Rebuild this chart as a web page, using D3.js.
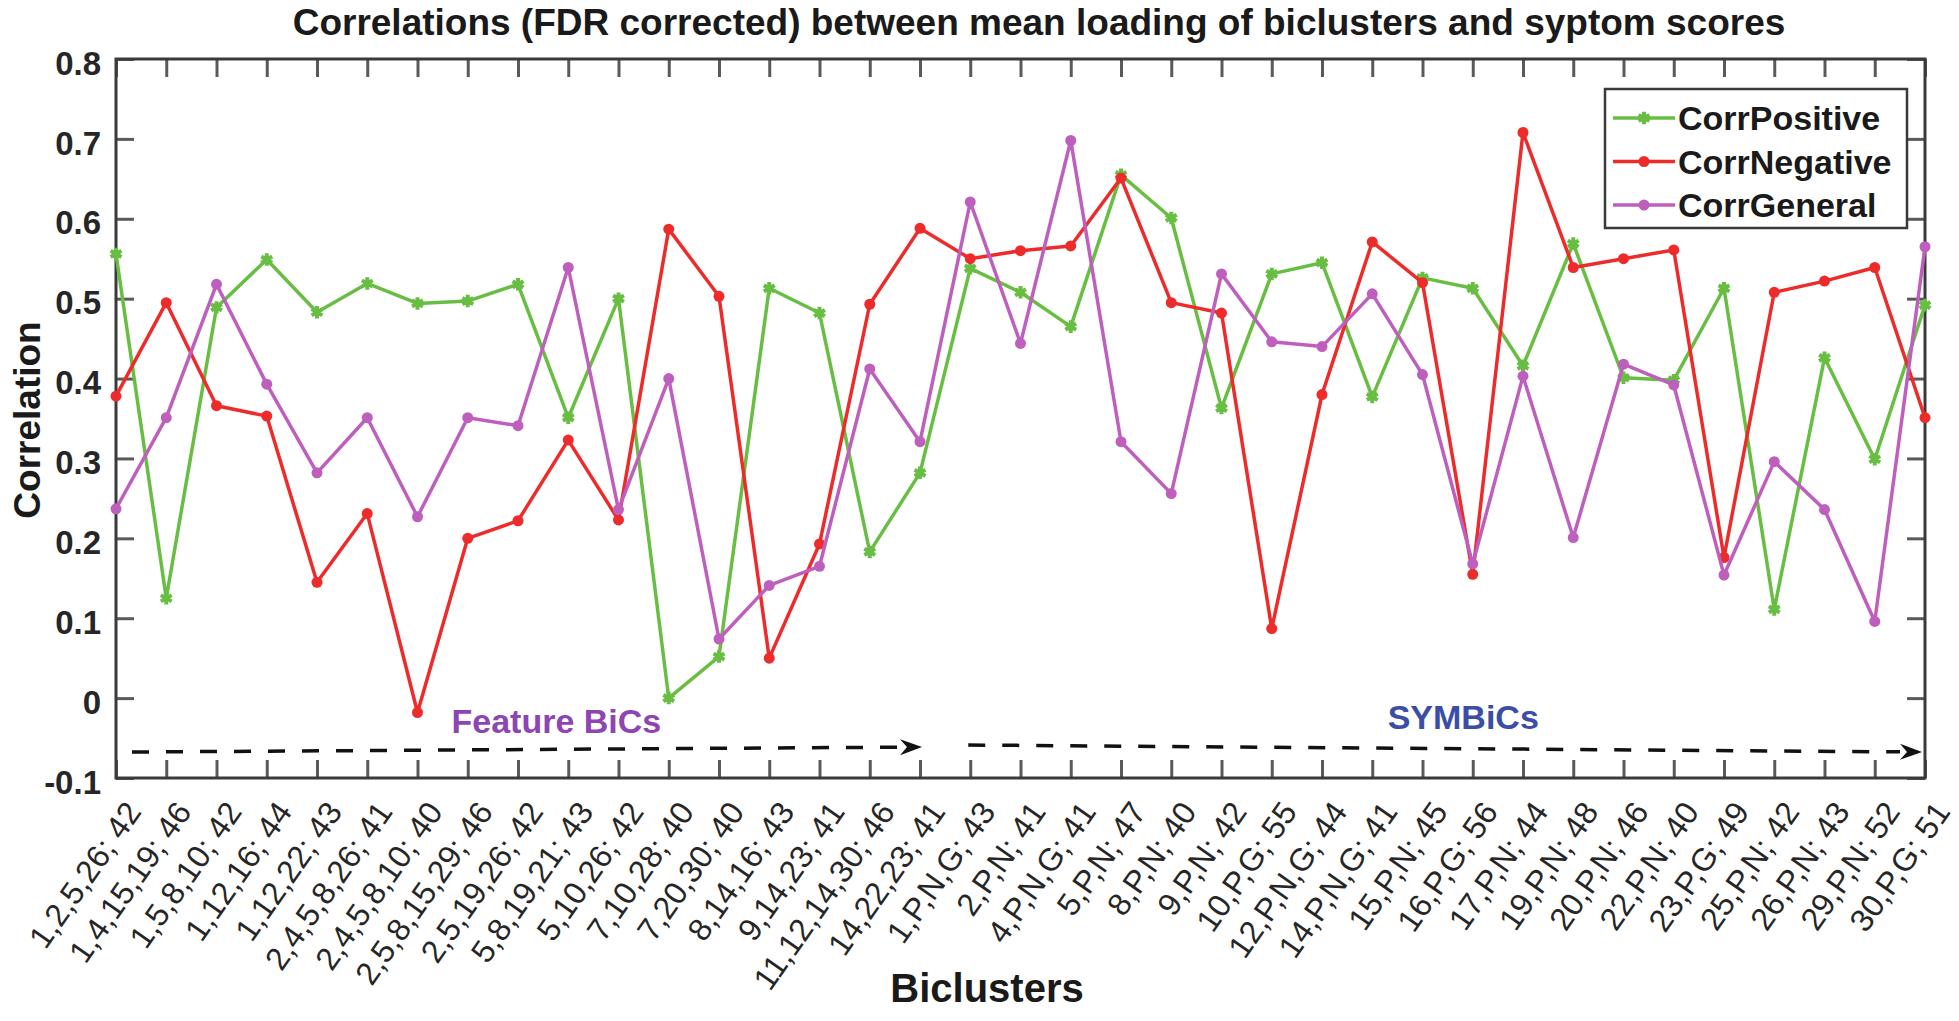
<!DOCTYPE html>
<html><head><meta charset="utf-8">
<script src="https://cdn.jsdelivr.net/npm/d3@7"></script>
<style>html,body{margin:0;padding:0;background:#fff;} svg{display:block;font-family:"Liberation Sans",Arial,Helvetica,sans-serif;}</style>
</head><body><svg id="chart" width="1959" height="1021"></svg>
<script>
const categories = ["1,2,5,26; 42","1,4,15,19; 46","1,5,8,10; 42","1,12,16; 44","1,12,22; 43","2,4,5,8,26; 41","2,4,5,8,10; 40","2,5,8,15,29; 46","2,5,19,26; 42","5,8,19,21; 43","5,10,26; 42","7,10,28; 40","7,20,30; 40","8,14,16; 43","9,14,23; 41","11,12,14,30; 46","14,22,23; 41","1,P,N,G; 43","2,P,N; 41","4,P,N,G; 41","5,P,N; 47","8,P,N; 40","9,P,N; 42","10,P,G; 55","12,P,N,G; 44","14,P,N,G; 41","15,P,N; 45","16,P,G; 56","17,P,N; 44","19,P,N; 48","20,P,N; 46","22,P,N; 40","23,P,G; 49","25,P,N; 42","26,P,N; 43","29,P,N; 52","30,P,G; 51"];
const corrPositive = [0.556,0.125,0.489,0.549,0.483,0.519,0.494,0.497,0.518,0.351,0.500,0.000,0.052,0.513,0.482,0.183,0.282,0.538,0.508,0.465,0.655,0.601,0.363,0.531,0.545,0.377,0.526,0.513,0.416,0.569,0.401,0.398,0.513,0.111,0.426,0.299,0.492];
const corrNegative = [0.378,0.495,0.366,0.353,0.145,0.231,-0.018,0.200,0.222,0.323,0.223,0.587,0.503,0.050,0.193,0.493,0.588,0.550,0.560,0.566,0.651,0.495,0.482,0.087,0.380,0.571,0.520,0.155,0.708,0.539,0.550,0.561,0.176,0.508,0.522,0.539,0.351];
const corrGeneral = [0.237,0.351,0.518,0.393,0.282,0.351,0.227,0.351,0.341,0.539,0.236,0.400,0.074,0.141,0.165,0.412,0.321,0.621,0.444,0.698,0.321,0.256,0.531,0.446,0.440,0.506,0.405,0.168,0.403,0.201,0.418,0.392,0.154,0.296,0.236,0.096,0.565];
const seriesNames = ["CorrPositive","CorrNegative","CorrGeneral"];
const yTicks = [-0.1,0,0.1,0.2,0.3,0.4,0.5,0.6,0.7,0.8];
const yTickLabels = ["-0.1","0","0.1","0.2","0.3","0.4","0.5","0.6","0.7","0.8"];
const groupNames = ["Feature BiCs","SYMBiCs"];
const titleText = "Correlations (FDR corrected) between mean loading of biclusters and syptom scores";
const xTitle = "Biclusters";
const yTitle = "Correlation";

const colors = {CorrPositive:"#68be42", CorrNegative:"#ee2b2b", CorrGeneral:"#be5fbe"};
const series = [
  {name:seriesNames[0], values:corrPositive, marker:"star"},
  {name:seriesNames[1], values:corrNegative, marker:"dot"},
  {name:seriesNames[2], values:corrGeneral, marker:"dot"}
];

const L=116, R=1925, T=59, B=778;
const svg = d3.select("#chart");
const x = d3.scalePoint().domain(categories).range([L,R]).padding(0);
const y = d3.scaleLinear().domain([-0.1,0.8]).range([B,T]);
const axisColor="#3a3a3a";

// title
svg.append("text").attr("x",1039).attr("y",35).attr("text-anchor","middle")
  .attr("font-size",37).attr("font-weight","bold").attr("fill","#1a1a1a").text(titleText);

// axes
const gL = svg.append("g").attr("transform",`translate(${L},0)`)
  .call(d3.axisLeft(y).tickValues(yTicks).tickFormat((d,i)=>yTickLabels[i]).tickSizeInner(-18).tickSizeOuter(0).tickPadding(15));
gL.selectAll("text").attr("font-size",33).attr("font-weight","bold").attr("fill","#262626").attr("dy","0.46em").attr("font-family","Liberation Sans, Arial, sans-serif");
const gR = svg.append("g").attr("transform",`translate(${R},0)`)
  .call(d3.axisRight(y).tickValues(yTicks).tickFormat("").tickSizeInner(-18).tickSizeOuter(0));
const gT = svg.append("g").attr("transform",`translate(0,${T})`)
  .call(d3.axisTop(x).tickFormat("").tickSizeInner(-18).tickSizeOuter(0));
const gB = svg.append("g").attr("transform",`translate(0,${B})`)
  .call(d3.axisBottom(x).tickSizeInner(-18).tickSizeOuter(0));
gB.selectAll("text").attr("y",null).attr("dy",null).attr("x",null)
  .attr("transform","translate(26,34) rotate(-55)").attr("text-anchor","end")
  .attr("font-size",32).attr("fill","#262626").attr("font-family","Liberation Sans, Arial, sans-serif");
[gL,gR,gT,gB].forEach(g=>{ g.select(".domain").remove(); g.selectAll(".tick line").attr("stroke","#5a5a5a").attr("stroke-width",3); });
svg.append("rect").attr("x",L).attr("y",T).attr("width",R-L).attr("height",B-T)
  .attr("fill","none").attr("stroke",axisColor).attr("stroke-width",3);

// axis titles
svg.append("text").attr("x",987).attr("y",1002).attr("text-anchor","middle")
  .attr("font-size",40).attr("font-weight","bold").attr("fill","#1a1a1a").text(xTitle);
svg.append("text").attr("transform","translate(40,420) rotate(-90)").attr("text-anchor","middle")
  .attr("font-size",37).attr("font-weight","bold").attr("fill","#1a1a1a").text(yTitle);

// series
const line = d3.line().x((d,i)=>x(categories[i])).y(d=>y(d));
const star = d3.symbol().type(d3.symbolAsterisk).size(110);
series.forEach(s=>{
  const g = svg.append("g");
  g.append("path").datum(s.values).attr("d",line).attr("fill","none")
    .attr("stroke",colors[s.name]).attr("stroke-width",3.5).attr("stroke-linejoin","round");
  if (s.marker==="dot"){
    g.selectAll("circle").data(s.values).join("circle")
      .attr("cx",(d,i)=>x(categories[i])).attr("cy",d=>y(d)).attr("r",5.5).attr("fill",colors[s.name]);
  } else {
    g.selectAll("path.m").data(s.values).join("path").attr("class","m")
      .attr("transform",(d,i)=>`translate(${x(categories[i])},${y(d)})`).attr("d",star)
      .attr("fill","none").attr("stroke",colors[s.name]).attr("stroke-width",4);
  }
});

// group annotations
function arrow(x1,v1,x2,v2){
  const y1=y(v1), y2=y(v2);
  const ang=Math.atan2(y2-y1,x2-x1);
  const hl=22;
  svg.append("line").attr("x1",x1).attr("y1",y1).attr("x2",x2-hl*Math.cos(ang)).attr("y2",y2-hl*Math.sin(ang))
    .attr("stroke","#111").attr("stroke-width",3.5).attr("stroke-dasharray","17,17");
  svg.append("path").attr("d","M0,0 L-22,-8 L-15,0 L-22,8 Z")
    .attr("transform",`translate(${x2},${y2}) rotate(${ang*180/Math.PI})`).attr("fill","#111");
}
arrow(x(categories[0])+16, -0.0675, x(categories[16])+2, -0.0612);
arrow(x(categories[17])-2, -0.0587, x(categories[36])-3, -0.0675);
svg.append("text").attr("x",x(categories[6])+34).attr("y",y(-0.0436)).attr("font-size",34)
  .attr("font-weight","bold").attr("fill","#8e45b4").text(groupNames[0]);
svg.append("text").attr("x",x(categories[25])+91).attr("y",y(-0.0386)).attr("text-anchor","middle").attr("font-size",34)
  .attr("font-weight","bold").attr("fill","#3a4ea8").text(groupNames[1]);

// legend
const lg = svg.append("g");
lg.append("rect").attr("x",1605).attr("y",89).attr("width",302).attr("height",139)
  .attr("fill","#fff").attr("stroke",axisColor).attr("stroke-width",2.5);
series.forEach((s,i)=>{
  const yy = 118 + i*43.5;
  lg.append("line").attr("x1",1613).attr("x2",1675).attr("y1",yy).attr("y2",yy)
    .attr("stroke",colors[s.name]).attr("stroke-width",3.5);
  if (s.marker==="dot") lg.append("circle").attr("cx",1644).attr("cy",yy).attr("r",5.5).attr("fill",colors[s.name]);
  else lg.append("path").attr("transform",`translate(1644,${yy})`).attr("d",star).attr("fill","none").attr("stroke",colors[s.name]).attr("stroke-width",4);
  lg.append("text").attr("x",1678).attr("y",yy).attr("dy","0.36em").attr("font-size",34)
    .attr("font-weight","bold").attr("fill","#1a1a1a").text(s.name);
});
</script></body></html>
